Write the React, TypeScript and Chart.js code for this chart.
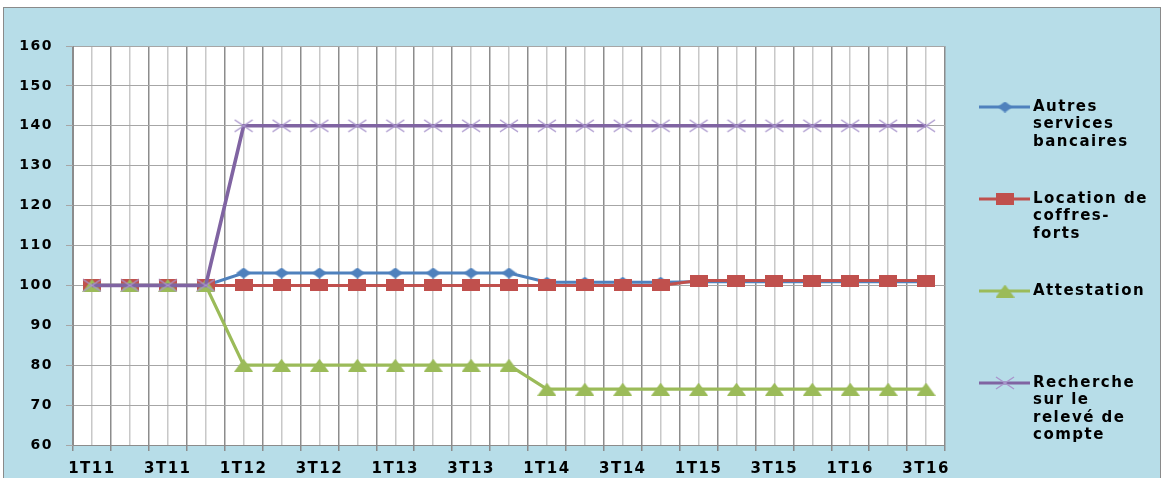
import React, { useEffect, useRef } from 'react';
import { Chart, registerables } from 'chart.js';

Chart.register(...registerables);

const categories = [
  '1T11', '2T11', '3T11', '4T11',
  '1T12', '2T12', '3T12', '4T12',
  '1T13', '2T13', '3T13', '4T13',
  '1T14', '2T14', '3T14', '4T14',
  '1T15', '2T15', '3T15', '4T15',
  '1T16', '2T16', '3T16',
];

const autresServices = [
  100, 100, 100, 100,
  103.1, 103.1, 103.1, 103.1,
  103.1, 103.1, 103.1, 103.1,
  100.8, 100.8, 100.8, 100.8,
  100.9, 100.9, 100.9, 100.9,
  100.9, 100.9, 100.9,
];

const locationCoffres = [
  100, 100, 100, 100,
  100, 100, 100, 100,
  100, 100, 100, 100,
  100, 100, 100, 100,
  101.2, 101.2, 101.2, 101.2,
  101.2, 101.2, 101.2,
];

const attestation = [
  100, 100, 100, 100,
  80, 80, 80, 80,
  80, 80, 80, 80,
  74, 74, 74, 74,
  74, 74, 74, 74,
  74, 74, 74,
];

const rechercheReleve = [
  100, 100, 100, 100,
  140, 140, 140, 140,
  140, 140, 140, 140,
  140, 140, 140, 140,
  140, 140, 140, 140,
  140, 140, 140,
];

const legendLines = [
  ['Autres', 'services', 'bancaires'],
  ['Location de', 'coffres-', 'forts'],
  ['Attestation'],
  ['Recherche', 'sur le', 'relevé de', 'compte'],
];

const yTicks = { min: 60, max: 160, step: 10 };

const FONT = '"DejaVu Sans", "Liberation Sans", Arial, sans-serif';

function makeMarker(kind: string, color: string, w: number, h: number) {
  const c = document.createElement('canvas');
  c.width = w;
  c.height = h;
  const g = c.getContext('2d') as CanvasRenderingContext2D;
  g.fillStyle = color;
  g.strokeStyle = color;
  if (kind === 'diamond') {
    g.beginPath();
    g.moveTo(w / 2, 0);
    g.lineTo(w, h / 2);
    g.lineTo(w / 2, h);
    g.lineTo(0, h / 2);
    g.closePath();
    g.fill();
  } else if (kind === 'rect') {
    g.fillRect(0, 0, w, h);
  } else if (kind === 'triangle') {
    g.beginPath();
    g.moveTo(w / 2, 0);
    g.lineTo(w, h);
    g.lineTo(0, h);
    g.closePath();
    g.fill();
  } else if (kind === 'cross') {
    g.lineWidth = 1.4;
    g.beginPath();
    g.moveTo(1, 1);
    g.lineTo(w - 1, h - 1);
    g.moveTo(w - 1, 1);
    g.lineTo(1, h - 1);
    g.stroke();
  }
  return c;
}

export default function App() {
  const ref = useRef<HTMLCanvasElement | null>(null);

  useEffect(() => {
    if (!ref.current) return;

    const colors = ['#4f81bd', '#c0504d', '#9bbb59', '#8064a2'];
    const markers = [
      makeMarker('diamond', '#4f81bd', 15, 11),
      makeMarker('rect', '#c0504d', 18, 12),
      makeMarker('triangle', '#9bbb59', 19, 13),
      makeMarker('cross', '#a995cc', 20, 14),
    ];
    const series = [autresServices, locationCoffres, attestation, rechercheReleve];
    const widths = [3, 3, 3.2, 3.6];
    const orders = [4, 3, 2, 1];

    const spacingPlugin = {
      id: 'spacingAndBg',
      beforeLayout(chart: any) {
        chart.ctx.letterSpacing = '1.5px';
      },
      beforeDraw(chart: any) {
        const ctx = chart.ctx;
        ctx.letterSpacing = '1.5px';
        const a = chart.chartArea;
        ctx.save();
        ctx.fillStyle = '#ffffff';
        ctx.fillRect(a.left, a.top, a.right - a.left, a.bottom - a.top);
        ctx.restore();
      },
    };

    const legendPlugin = {
      id: 'customLegend',
      afterDraw(chart: any) {
        const ctx = chart.ctx;
        const ys = [107, 199, 291, 383];
        ctx.save();
        ctx.letterSpacing = '1.5px';
        for (let i = 0; i < 4; i++) {
          const y = ys[i];
          ctx.strokeStyle = colors[i];
          ctx.lineWidth = 3;
          ctx.beginPath();
          ctx.moveTo(979, y);
          ctx.lineTo(1030, y);
          ctx.stroke();
          const m = markers[i];
          ctx.drawImage(m, 1005 - m.width / 2, y - m.height / 2);
          ctx.fillStyle = '#000000';
          ctx.font = `bold 15px ${FONT}`;
          ctx.textBaseline = 'middle';
          ctx.textAlign = 'left';
          legendLines[i].forEach((t, k) => {
            ctx.fillText(t, 1033, y + k * 17.5);
          });
        }
        ctx.restore();
      },
    };

    const labels = ['Autres services bancaires', 'Location de coffres-forts', 'Attestation', 'Recherche sur le relevé de compte'];

    const chart = new Chart(ref.current, {
      type: 'line',
      data: {
        labels: categories,
        datasets: series.map((d, i) => ({
          label: labels[i],
          data: d,
          borderColor: colors[i],
          backgroundColor: colors[i],
          borderWidth: widths[i],
          pointStyle: markers[i] as any,
          pointRadius: 7,
          tension: 0,
          fill: false,
          order: orders[i],
        })),
      },
      options: {
        animation: false,
        responsive: false,
        maintainAspectRatio: false,
        layout: { padding: { left: 0, right: 220, top: 46, bottom: 0 } },
        plugins: {
          legend: { display: false },
          tooltip: { enabled: false },
        },
        scales: {
          x: {
            type: 'category',
            offset: true,
            grid: { offset: true, color: '#8c8c8c', lineWidth: 1.5, tickLength: 6 },
            border: { color: '#8c8c8c', width: 1 },
            ticks: {
              autoSkip: false,
              maxRotation: 0,
              minRotation: 0,
              padding: 9,
              color: '#000000',
              font: { family: FONT, size: 15, weight: 'bold' },
              callback: (_v: any, i: number) => (i % 2 === 0 ? categories[i] : ''),
            },
            afterFit: (s: any) => {
              s.height = 33;
            },
          },
          x2: {
            type: 'category',
            labels: categories,
            offset: true,
            position: 'bottom',
            grid: { offset: false, color: '#c8c8c8', lineWidth: 1.5, drawTicks: false },
            border: { display: false },
            ticks: { display: false },
            afterFit: (s: any) => {
              s.height = 0;
            },
          },
          y: {
            min: yTicks.min,
            max: yTicks.max,
            ticks: {
              stepSize: yTicks.step,
              padding: 13,
              color: '#000000',
              font: { family: FONT, size: 14, weight: 'bold' },
            },
            grid: { color: '#a6a6a6', lineWidth: 1, tickLength: 7 },
            border: { color: '#8c8c8c', width: 1 },
            afterFit: (s: any) => {
              s.width = 73;
            },
          },
        },
      } as any,
      plugins: [spacingPlugin, legendPlugin],
    });

    return () => chart.destroy();
  }, []);

  return (
    <div
      style={{
        position: 'fixed',
        left: 0,
        top: 0,
        width: 1165,
        height: 478,
        background: '#ffffff',
        overflow: 'hidden',
      }}
    >
      <div
        style={{
          position: 'absolute',
          left: 3,
          top: 7,
          width: 1158,
          height: 500,
          background: '#b7dde8',
          border: '1px solid #8a8a8a',
          boxSizing: 'border-box',
        }}
      />
      <canvas
        ref={ref}
        width={1165}
        height={478}
        style={{ position: 'absolute', left: 0, top: 0, width: 1165, height: 478 }}
      />
    </div>
  );
}
